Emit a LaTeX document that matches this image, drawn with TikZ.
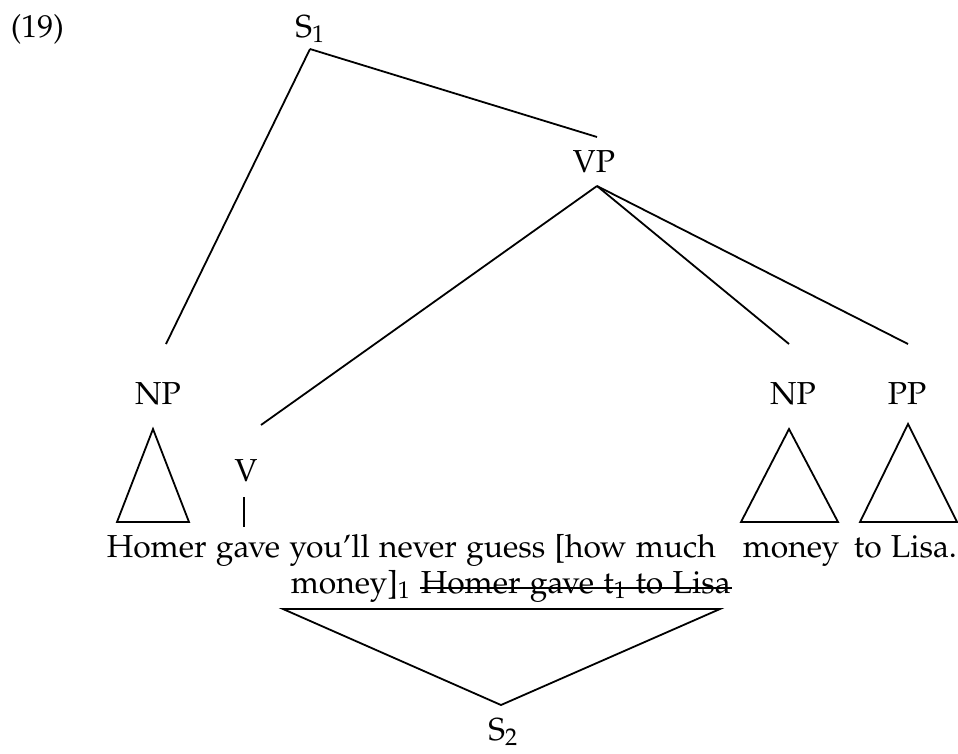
\documentclass[tikz,border=0pt]{standalone}
\usepackage[T1]{fontenc}
\usepackage[sc]{mathpazo}
\usepackage{tikz}
\usetikzlibrary{positioning}

\tikzset{cat/.style={anchor=base,inner sep=0pt},
         words/.style={anchor=base west,inner sep=0pt}}

\begin{document}
\begin{tikzpicture}[x=1pt,y=-1pt,line width=1.8pt,font=\fontsize{31.8}{38}\selectfont]
	\useasboundingbox (0,0) rectangle (958,753);
	% labels
	\node[words] (ex) at (10,37) {(19)};
	\node[cat] (s1) at (310,37) {S$_1$};
	\node[cat] (vp) at (594,172) {VP};
	\node[cat] (np1) at (158,404) {NP};
	\node[cat] (v) at (246,481) {V};
	\node[cat] (np2) at (793,404) {NP};
	\node[cat] (pp) at (907,404) {PP};
	\node[cat] (s2) at (503,740) {S$_2$};
	% words
	\node[words] (line1) at (106,557) {Homer gave you'll never guess [how much};
	\node[words] (money) at (742,557) {money};
	\node[words] (tolisa) at (853,557) {to Lisa.};
	\node[words] (moved) at (290,593) {money]$_1$};
	\node[words] (gone) at (420,593) {Homer gave t$_1$ to Lisa};
	% branches
	\draw ([yshift=-12pt]s1.base) -- ([xshift=3pt,yshift=35pt]vp.base);
	\draw ([yshift=-12pt]s1.base) -- ([xshift=8pt,yshift=60pt]np1.base);
	\draw ([xshift=3pt,yshift=-14pt]vp.base) -- ([xshift=15pt,yshift=56pt]v.base);
	\draw ([xshift=3pt,yshift=-14pt]vp.base) -- ([xshift=-4pt,yshift=60pt]np2.base);
	\draw ([xshift=3pt,yshift=-14pt]vp.base) -- ([xshift=1pt,yshift=60pt]pp.base);
	\draw ([xshift=-2pt,yshift=-16pt]v.base) -- ++(0,30);
	% triangles
	\draw ([xshift=-5pt,yshift=-25pt]np1.base) -- ++(-36,93) -- ++(72,0) -- cycle;
	\draw ([xshift=-4pt,yshift=-25pt]np2.base) -- ++(-48,93) -- ++(97,0) -- cycle;
	\draw ([xshift=1pt,yshift=-20pt]pp.base) -- ++(-48,98) -- ++(97,0) -- cycle;
	\draw ([xshift=-2pt,yshift=35pt]s2.base) -- ++(219,-96) -- ++(-437,0) -- cycle;
	% strike out
	\draw[line width=1.4pt] ([yshift=5pt]gone.base west) -- ([yshift=5pt]gone.base east);
\end{tikzpicture}
\end{document}
